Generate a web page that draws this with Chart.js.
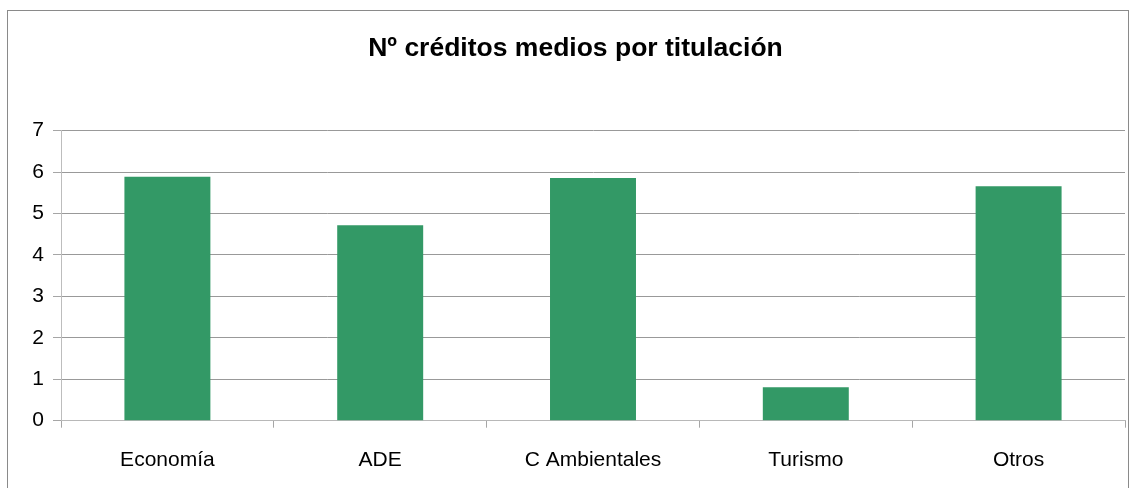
<!DOCTYPE html>
<html>
<head>
<meta charset="utf-8">
<script src="https://cdn.jsdelivr.net/npm/chart.js@4/dist/chart.umd.min.js"></script>
<style>
  html, body { margin: 0; padding: 0; background: #fff; width: 1131px; height: 488px; overflow: hidden; }
  #frame { position: absolute; left: 7px; top: 10px; width: 1122px; height: 500px; border: 1px solid #8a8a8a; box-sizing: border-box; }
  #wrap { position: absolute; left: 0; top: 0; width: 1131px; height: 488px; }
</style>
</head>
<body>
<div id="frame"></div>
<div id="wrap"><canvas id="c" width="1131" height="488"></canvas></div>
<script>
const categories = ["Economía", "ADE", "C Ambientales", "Turismo", "Otros"];
const values = [5.89, 4.72, 5.86, 0.81, 5.66];
const yTicks = [0, 1, 2, 3, 4, 5, 6, 7];
const chartTitle = "Nº créditos medios por titulación";

const FONT = "'Liberation Sans', Arial, sans-serif";

new Chart(document.getElementById('c'), {
  type: 'bar',
  data: {
    labels: categories,
    datasets: [{
      data: values,
      backgroundColor: '#339966',
      borderWidth: 0,
      categoryPercentage: 1.0,
      barPercentage: 0.404
    }]
  },
  options: {
    responsive: false,
    animation: false,
    devicePixelRatio: 1,
    layout: { padding: { left: 26, right: 6, top: 0, bottom: 0 } },
    plugins: {
      legend: { display: false },
      tooltip: { enabled: false },
      title: {
        display: true,
        text: chartTitle,
        color: '#000',
        font: { family: FONT, size: 26.5, weight: 'bold', lineHeight: 1.2 },
        padding: { top: 33, bottom: 65.9 }
      }
    },
    scales: {
      x: {
        type: 'category',
        offset: true,
        grid: {
          offset: true,
          drawOnChartArea: false,
          drawTicks: true,
          tickLength: 7,
          color: '#a6a6a6'
        },
        border: { display: true, color: '#b8b8b8', width: 1 },
        ticks: { color: '#000', font: { family: FONT, size: 21 }, padding: 20, maxRotation: 0, autoSkip: false },
        afterFit(scale) { scale.height = 67.3; }
      },
      y: {
        min: 0,
        max: 7,
        afterBuildTicks(scale) { scale.ticks = yTicks.map(v => ({ value: v })); },
        grid: {
          color: '#999',
          lineWidth: 1,
          drawTicks: true,
          tickLength: 8,
          tickColor: '#a6a6a6'
        },
        border: { display: true, color: '#bdbdbd', width: 1 },
        ticks: { color: '#000', font: { family: FONT, size: 21 }, padding: 9, stepSize: 1 },
        afterFit(scale) { scale.width = 35; }
      }
    }
  }
});
</script>
</body>
</html>
